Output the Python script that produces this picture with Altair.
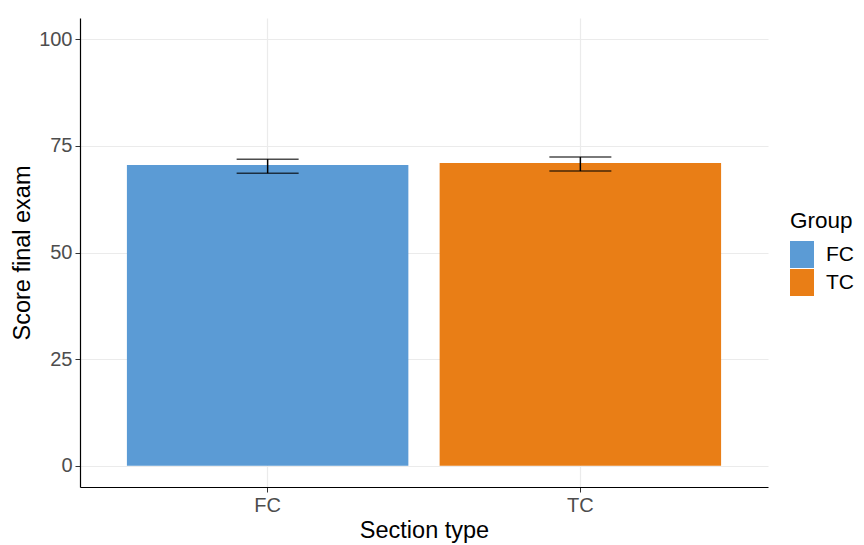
import altair as alt
import pandas as pd

sections = ["FC", "TC"]
means = [70.5, 71.0]
lower = [68.6, 69.1]
upper = [71.9, 72.4]
colors = ["#5b9bd5", "#e97e16"]

df = pd.DataFrame({
    "section": sections,
    "group": sections,
    "mean": means,
    "lo": lower,
    "hi": upper,
    "zero": [0, 0],
})

FONT = "Liberation Sans"

x_enc = alt.X(
    "section:N",
    title="Section type",
    sort=sections,
    scale=alt.Scale(paddingInner=0.1, paddingOuter=0.15),
    axis=alt.Axis(labelAngle=0, labelFontSize=20, labelColor="#4d4d4d",
                  titleFontSize=23.5, titleColor="#000000", titleFontWeight="normal",
                  domainColor="#000000", domainWidth=1.2, tickColor="#333333",
                  tickSize=5, labelPadding=3, titlePadding=3,
                  grid=True, gridColor="#ebebeb", gridWidth=1.2,
                  labelFont=FONT, titleFont=FONT),
)
y_scale = alt.Scale(domain=[-5, 105], nice=False, zero=False)
y_axis = alt.Axis(values=[0, 25, 50, 75, 100], labelFontSize=20, labelColor="#4d4d4d",
                  titleFontSize=23.5, titleColor="#000000", titleFontWeight="normal",
                  domainColor="#000000", domainWidth=1.2, tickColor="#333333",
                  tickSize=5, labelPadding=3, titlePadding=4,
                  grid=True, gridColor="#ebebeb", gridWidth=1.2,
                  labelFont=FONT, titleFont=FONT)

base = alt.Chart(df)

bars = base.mark_bar().encode(
    x=x_enc,
    y=alt.Y("mean:Q", title="Score final exam", scale=y_scale, axis=y_axis),
    y2="zero:Q",
    color=alt.Color(
        "group:N",
        title="Group",
        scale=alt.Scale(domain=sections, range=colors),
        legend=alt.Legend(
            orient="none", legendX=710, legendY=192,
            titleFontSize=22.5, titleFont=FONT, titleColor="#000000",
            titleFontWeight="normal", titlePadding=10,
            labelFontSize=21, labelFont=FONT, labelColor="#000000",
            symbolType="M-1,-1.125H1V1.125H-1Z", symbolSize=576,
            symbolStrokeWidth=0, symbolOpacity=1, rowPadding=0,
            labelOffset=12,
        ),
    ),
)

err = base.mark_rule(color="#000000", strokeWidth=1.5).encode(
    x=alt.X("section:N", sort=sections),
    y=alt.Y("lo:Q", scale=y_scale),
    y2="hi:Q",
)
cap_hi = base.mark_tick(color="#000000", thickness=1.5, size=62).encode(
    x=alt.X("section:N", sort=sections),
    y=alt.Y("hi:Q", scale=y_scale),
)
cap_lo = base.mark_tick(color="#000000", thickness=1.5, size=62).encode(
    x=alt.X("section:N", sort=sections),
    y=alt.Y("lo:Q", scale=y_scale),
)

chart = alt.layer(bars, err, cap_hi, cap_lo).properties(
    width=688, height=469,
    autosize=alt.AutoSizeParams(type="none"),
    padding={"left": 72, "top": 10, "right": 88, "bottom": 58},
).configure(font=FONT).configure_view(stroke=None)

chart.save("out.html", embed_options={"renderer": "svg", "actions": False})
